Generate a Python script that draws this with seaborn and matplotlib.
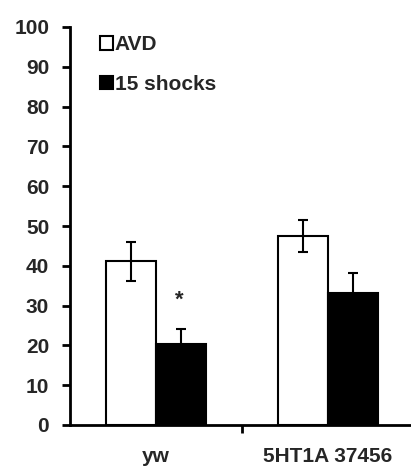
import matplotlib
matplotlib.use("Agg")
import matplotlib.pyplot as plt
import seaborn as sns
import pandas as pd
from matplotlib.patches import Patch

# Data
genotypes = ["yw", "5HT1A 37456"]
conditions = ["AVD", "15 shocks"]
means_avd = [41.1, 47.4]
means_shock = [20.4, 33.2]
sem_avd = [4.9, 4.0]
sem_shock = [3.8, 5.0]
yticks = [0, 10, 20, 30, 40, 50, 60, 70, 80, 90, 100]

df = pd.DataFrame({
    "genotype": genotypes * 2,
    "condition": [conditions[0]] * 2 + [conditions[1]] * 2,
    "value": means_avd + means_shock,
    "sem": sem_avd + sem_shock,
})

sns.set_style("white")
plt.rcParams["font.family"] = ["Liberation Sans", "DejaVu Sans"]
plt.rcParams["font.weight"] = "bold"

W, H = 411, 466
fig = plt.figure(figsize=(W / 100, H / 100), dpi=100)
ax = fig.add_axes([70 / W, 1 - 425 / H, (W - 70) / W, (425 - 27) / H])

sns.barplot(data=df, x="genotype", y="value", hue="condition",
            order=genotypes, hue_order=conditions,
            palette=["white", "black"], edgecolor="black", linewidth=1.5,
            width=0.58, errorbar=None, ax=ax, legend=False)

# error bars (white bars first, then black bars, matching patch order)
bars = [p for p in ax.patches if p.get_height() > 0]
errs = sem_avd + sem_shock
for bar, err in zip(bars, errs):
    cx = bar.get_x() + bar.get_width() / 2
    ax.errorbar(cx, bar.get_height(), yerr=err, fmt="none", ecolor="black",
                elinewidth=1.5, capsize=3.5, capthick=1.5, zorder=1)

# significance marker above the yw shock bar
shock_yw = bars[2]
ax.text(shock_yw.get_x() + shock_yw.get_width() / 2 - 0.01, 31.3, "*",
        ha="center", va="center", fontsize=16, fontweight="bold")

ax.set_ylim(0, 100)
ax.set_xlim(-0.5, 1.483)
ax.set_yticks(yticks)
ax.set_yticklabels([str(t) for t in yticks])
ax.set_xticks([0, 1])
ax.set_xticklabels(genotypes)
ax.set_xticks([0.5], minor=True)
ax.tick_params(axis="x", which="major", length=0, pad=16, labelsize=15)
ax.tick_params(axis="x", which="minor", length=6, width=2, direction="out",
               bottom=True, color="black")
ax.tick_params(axis="y", length=6, width=2, direction="out", left=True,
               color="black", pad=9, labelsize=15)
for lbl in ax.get_xticklabels() + ax.get_yticklabels():
    lbl.set_fontweight("bold")
ax.set_xlabel("")
ax.set_ylabel("")

for s in ["top", "right"]:
    ax.spines[s].set_visible(False)
for s in ["left", "bottom"]:
    ax.spines[s].set_linewidth(2)
    ax.spines[s].set_color("black")

handles = [Patch(facecolor="white", edgecolor="black", linewidth=1.5),
           Patch(facecolor="black", edgecolor="black", linewidth=1.5)]
leg = ax.legend(handles, conditions, loc="upper left",
                bbox_to_anchor=(22 / (W - 70), 1.0), frameon=False,
                handlelength=0.6, handleheight=0.6, handletextpad=0.1,
                labelspacing=0.97, borderaxespad=0,
                prop={"size": 15, "weight": "bold"})

fig.savefig("out.png", dpi=100)
